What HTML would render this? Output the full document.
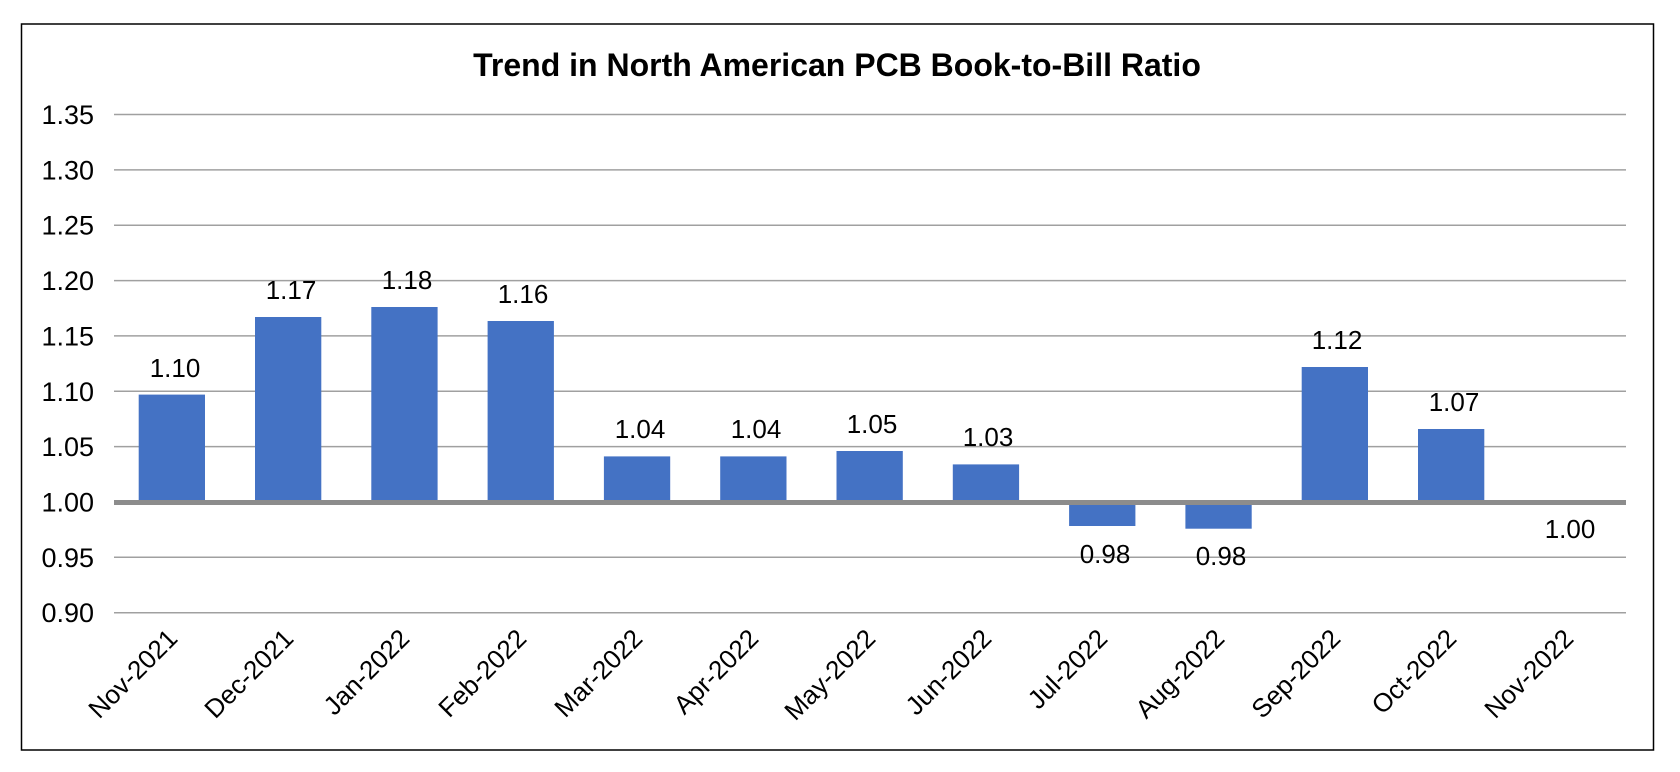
<!DOCTYPE html>
<html><head><meta charset="utf-8"><style>
html,body{margin:0;padding:0;background:#fff;}
svg{display:block;}
text{font-family:"Liberation Sans",Arial,sans-serif;fill:#000;}
</style></head><body>
<svg width="1680" height="772" viewBox="0 0 1680 772" xmlns="http://www.w3.org/2000/svg">
<rect x="21.5" y="24" width="1632" height="726" fill="#fff" stroke="#000" stroke-width="1.5"/>
<text x="837" y="76" text-anchor="middle" font-size="32" font-weight="bold">Trend in North American PCB Book-to-Bill Ratio</text>
<g stroke="#a0a0a0" stroke-width="1.5">
<line x1="114" x2="1626" y1="114.5" y2="114.5"/>
<line x1="114" x2="1626" y1="169.9" y2="169.9"/>
<line x1="114" x2="1626" y1="225.2" y2="225.2"/>
<line x1="114" x2="1626" y1="280.6" y2="280.6"/>
<line x1="114" x2="1626" y1="335.9" y2="335.9"/>
<line x1="114" x2="1626" y1="391.3" y2="391.3"/>
<line x1="114" x2="1626" y1="446.6" y2="446.6"/>
<line x1="114" x2="1626" y1="557.3" y2="557.3"/>
<line x1="114" x2="1626" y1="612.7" y2="612.7"/>
</g>
<g font-size="27" text-anchor="end">
<text x="94" y="124">1.35</text>
<text x="94" y="179.4">1.30</text>
<text x="94" y="234.7">1.25</text>
<text x="94" y="290.1">1.20</text>
<text x="94" y="345.4">1.15</text>
<text x="94" y="400.8">1.10</text>
<text x="94" y="456.1">1.05</text>
<text x="94" y="511.5">1.00</text>
<text x="94" y="566.8">0.95</text>
<text x="94" y="622.2">0.90</text>
</g>
<g fill="#4472c4">
<rect x="138.7" y="394.6" width="66.3" height="107.9"/>
<rect x="255" y="317" width="66.3" height="185.5"/>
<rect x="371.3" y="307" width="66.3" height="195.5"/>
<rect x="487.6" y="321" width="66.3" height="181.5"/>
<rect x="603.9" y="456.4" width="66.3" height="46.1"/>
<rect x="720.2" y="456.4" width="66.3" height="46.1"/>
<rect x="836.5" y="451" width="66.3" height="51.5"/>
<rect x="952.8" y="464.4" width="66.3" height="38.1"/>
<rect x="1069.1" y="502.5" width="66.3" height="23.5"/>
<rect x="1185.4" y="502.5" width="66.3" height="26.2"/>
<rect x="1301.7" y="367" width="66.3" height="135.5"/>
<rect x="1418" y="429" width="66.3" height="73.5"/>
</g>
<line x1="114" x2="1626" y1="502.5" y2="502.5" stroke="#8c8c8c" stroke-width="5"/>
<g font-size="26" text-anchor="middle">
<text x="175" y="377">1.10</text>
<text x="291" y="299">1.17</text>
<text x="407" y="289">1.18</text>
<text x="523" y="303">1.16</text>
<text x="640" y="438">1.04</text>
<text x="756" y="438">1.04</text>
<text x="872" y="433">1.05</text>
<text x="988" y="446">1.03</text>
<text x="1105" y="563">0.98</text>
<text x="1221" y="565">0.98</text>
<text x="1337" y="349">1.12</text>
<text x="1454" y="411">1.07</text>
<text x="1570" y="538">1.00</text>
</g>
<g font-size="26" text-anchor="end">
<text transform="translate(179,640) rotate(-45)">Nov-2021</text>
<text transform="translate(295,640) rotate(-45)">Dec-2021</text>
<text transform="translate(411,640) rotate(-45)">Jan-2022</text>
<text transform="translate(528,640) rotate(-45)">Feb-2022</text>
<text transform="translate(644,640) rotate(-45)">Mar-2022</text>
<text transform="translate(760,640) rotate(-45)">Apr-2022</text>
<text transform="translate(877,640) rotate(-45)">May-2022</text>
<text transform="translate(993,640) rotate(-45)">Jun-2022</text>
<text transform="translate(1109,640) rotate(-45)">Jul-2022</text>
<text transform="translate(1226,640) rotate(-45)">Aug-2022</text>
<text transform="translate(1342,640) rotate(-45)">Sep-2022</text>
<text transform="translate(1458,640) rotate(-45)">Oct-2022</text>
<text transform="translate(1575,640) rotate(-45)">Nov-2022</text>
</g>
</svg>
</body></html>
